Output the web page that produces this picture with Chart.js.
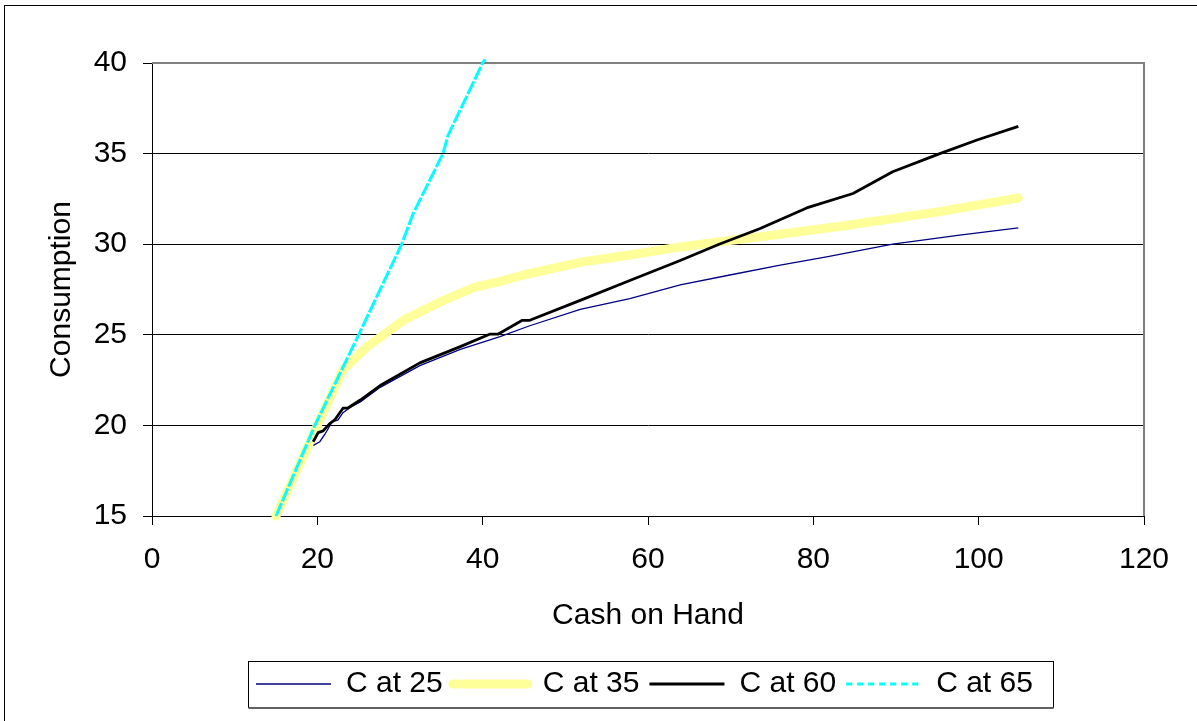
<!DOCTYPE html>
<html>
<head>
<meta charset="utf-8">
<script src="https://cdn.jsdelivr.net/npm/chart.js@4/dist/chart.umd.min.js"></script>
<style>
  html, body { margin: 0; padding: 0; background: #fff; }
  #wrap { width: 1197px; height: 721px; }
</style>
</head>
<body>
<div id="wrap"><canvas id="c" width="1197" height="721"></canvas></div>
<script>
// Consumption functions by age: cash on hand (x) vs consumption (y)
const seriesNames = ['C at 25', 'C at 35', 'C at 60', 'C at 65'];

const cashC25 = [19.5, 20.3, 20.9, 21.8, 22.5, 23.1, 24.0, 25.2, 27.6, 32.4, 37.3, 42.1, 45.7, 51.8, 57.8, 63.9, 69.9, 76.0, 81.6, 89.6, 97.7, 104.8];
const consC25 = [18.9, 19.1, 19.5, 20.2, 20.3, 20.7, 21.0, 21.3, 22.1, 23.3, 24.2, 24.9, 25.5, 26.4, 27.0, 27.75, 28.3, 28.85, 29.3, 30.0, 30.5, 30.9];

const cashC35 = [15, 20, 23.1, 26.0, 30.4, 34.8, 38.9, 42.1, 44.9, 51.8, 57.8, 63.9, 69.9, 76.0, 84.4, 95.3, 104.8];
const consC35 = [15, 20, 23.06, 24.33, 25.8, 26.8, 27.6, 27.95, 28.3, 29.0, 29.4, 29.85, 30.2, 30.55, 31.06, 31.8, 32.55];

const cashC60 = [19.5, 20.1, 20.7, 21.5, 22.1, 23.1, 23.7, 25.2, 27.6, 32.4, 37.3, 40.9, 41.9, 44.8, 45.7, 51.8, 57.8, 63.9, 68.6, 73.5, 79.2, 84.8, 89.6, 95.3, 99.8, 104.8];
const consC60 = [19.1, 19.6, 19.7, 20.1, 20.3, 20.95, 20.96, 21.4, 22.2, 23.45, 24.35, 25.04, 25.04, 25.8, 25.8, 26.9, 28.0, 29.1, 30.0, 30.85, 32.0, 32.8, 34.0, 35.0, 35.75, 36.5];

const cashC65 = [15, 19.7, 25.0, 27.6, 30.2, 31.6, 35.2, 35.8, 40.0, 40.3];
const consC65 = [15, 20.0, 25.0, 27.5, 30.0, 31.7, 35.0, 36.0, 40.0, 40.2];

const xTicks = [0, 20, 40, 60, 80, 100, 120];
const yTicks = [15, 20, 25, 30, 35, 40];

const pairs = (xs, ys) => xs.map((x, i) => ({ x: x, y: ys[i] }));

Chart.defaults.font.family = '"Liberation Sans", Arial, sans-serif';
Chart.defaults.font.size = 30;
Chart.defaults.color = '#000';

// white page with the outer chart frame
const pageFrame = {
  id: 'pageFrame',
  beforeDraw(chart) {
    const ctx = chart.ctx;
    ctx.save();
    ctx.fillStyle = '#fff';
    ctx.fillRect(0, 0, chart.width, chart.height);
    ctx.strokeStyle = '#000';
    ctx.lineWidth = 1;
    ctx.strokeRect(4.5, 5.5, chart.width + 20, chart.height + 20);
    ctx.restore();
  }
};

// gray top/right edges of the plot area
const plotFrame = {
  id: 'plotFrame',
  beforeDatasetsDraw(chart) {
    const { ctx, chartArea: a } = chart;
    ctx.save();
    ctx.strokeStyle = '#808080';
    ctx.lineWidth = 2;
    ctx.beginPath();
    ctx.moveTo(a.left, a.top);
    ctx.lineTo(a.right, a.top);
    ctx.lineTo(a.right, a.bottom);
    ctx.stroke();
    ctx.restore();
  }
};

// centre the legend row under the plot and box it
const legendBox = {
  id: 'legendBox',
  afterLayout(chart) {
    const lg = chart.legend;
    if (!lg || !lg.lineWidths) return;
    const pad = lg.options.labels.padding;
    const start = (lg.left + pad + lg.right - lg.lineWidths[0]) / 2;
    const dx = 256 - start;
    lg.left += dx;
    lg.right += dx;
  },
  afterDraw(chart) {
    const lg = chart.legend;
    const hb = lg && lg.legendHitBoxes;
    if (!hb || !hb.length) return;
    const first = hb[0], last = hb[hb.length - 1];
    const cy = first.top + first.height / 2;
    const l = Math.round(first.left - 8) + 0.5;
    const r = Math.round(last.left + last.width + 20) + 0.5;
    const t = Math.round(cy - 23) + 0.5;
    const b = Math.round(cy + 23) + 0.5;
    const ctx = chart.ctx;
    ctx.save();
    ctx.strokeStyle = '#000';
    ctx.lineWidth = 1;
    ctx.strokeRect(l, t, r - l, b - t);
    ctx.strokeStyle = '#606060';
    ctx.lineWidth = 2;
    ctx.beginPath();
    ctx.moveTo(l, b + 0.5);
    ctx.lineTo(r, b + 0.5);
    ctx.stroke();
    ctx.restore();
  }
};

const datasets = [
  {
    label: seriesNames[0], data: pairs(cashC25, consC25),
    borderColor: '#000080', backgroundColor: '#000080', borderWidth: 1.3, order: 4
  },
  {
    label: seriesNames[1], data: pairs(cashC35, consC35),
    borderColor: '#FFFF99', backgroundColor: '#FFFF99', borderWidth: 9,
    borderCapStyle: 'round', borderJoinStyle: 'round', order: 3
  },
  {
    label: seriesNames[2], data: pairs(cashC60, consC60),
    borderColor: '#000000', backgroundColor: '#000000', borderWidth: 2.8,
    borderJoinStyle: 'round', order: 2
  },
  {
    label: seriesNames[3], data: pairs(cashC65, consC65),
    borderColor: '#00FFFF', backgroundColor: '#00FFFF', borderWidth: 3,
    borderDash: [14, 2], legendDash: [6, 5], order: 1
  }
];
datasets.forEach(d => { d.pointRadius = 0; d.tension = 0; d.clip = false; d.fill = false; });

new Chart(document.getElementById('c'), {
  type: 'line',
  data: { datasets },
  options: {
    responsive: false,
    animation: false,
    devicePixelRatio: 1,
    layout: { padding: { left: 0, right: 53, top: 63, bottom: 12 } },
    scales: {
      x: {
        type: 'linear', min: 0, max: 120,
        afterBuildTicks: s => { s.ticks = xTicks.map(v => ({ value: v })); },
        afterFit: s => { s.height = 143; },
        grid: { drawOnChartArea: false, drawTicks: true, tickLength: 9, color: '#000', lineWidth: 1 },
        border: { display: true, color: '#000', width: 1 },
        ticks: { padding: 17, maxRotation: 0, color: '#000' },
        title: { display: true, text: 'Cash on Hand', color: '#000', padding: { top: 0, bottom: 25 } }
      },
      y: {
        type: 'linear', min: 15, max: 40,
        afterBuildTicks: s => { s.ticks = yTicks.map(v => ({ value: v })); },
        afterFit: s => { s.width = 152; },
        grid: { drawTicks: true, tickLength: 9, color: '#000', lineWidth: 1 },
        border: { display: true, color: '#000', width: 1 },
        ticks: { padding: 16, color: '#000' },
        title: { display: true, text: 'Consumption', color: '#000', padding: { top: 44, bottom: 0 } }
      }
    },
    plugins: {
      tooltip: { enabled: false },
      legend: {
        display: true, position: 'bottom', align: 'center',
        labels: {
          usePointStyle: true, pointStyle: 'line', pointStyleWidth: 75,
          padding: 10, color: '#000',
          sort: (a, b) => a.datasetIndex - b.datasetIndex,
          generateLabels(chart) {
            const items = Chart.defaults.plugins.legend.labels.generateLabels(chart);
            items.forEach(it => {
              const ds = chart.data.datasets[it.datasetIndex];
              it.pointStyle = 'line';
              it.lineCap = ds.borderCapStyle || 'butt';
              it.lineDash = ds.legendDash || ds.borderDash || [];
            });
            return items;
          }
        }
      }
    }
  },
  plugins: [pageFrame, plotFrame, legendBox]
});
</script>
</body>
</html>
